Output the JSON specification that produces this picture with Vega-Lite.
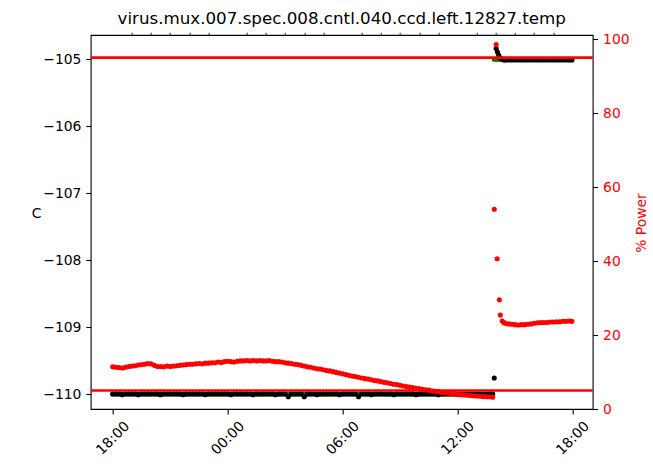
{
  "$schema": "https://vega.github.io/schema/vega-lite/v6.json",
  "autosize": "none",
  "width": 502,
  "height": 374,
  "padding": {"left": 90.7, "top": 35, "right": 60.3, "bottom": 57},
  "background": "white",
  "title": {"text": "virus.mux.007.spec.008.cntl.040.ccd.left.12827.temp", "fontSize": 16.7, "font": "DejaVu Sans", "fontWeight": "normal", "color": "#000", "anchor": "middle", "baseline": "alphabetic", "offset": 11, "dy": 19.5},
  "config": {
    "font": "DejaVu Sans",
    "view": {"stroke": "#000", "strokeWidth": 1.1},
    "axis": {"domain": false, "grid": false, "labelFont": "DejaVu Sans", "labelFontSize": 13.9, "labelColor": "#000", "tickColor": "#000", "tickWidth": 1.1, "tickSize": 4.9, "titleFont": "DejaVu Sans", "titleFontWeight": "normal", "titleFontSize": 13.9, "titleColor": "#000", "labelOverlap": false, "labelFlush": false}
  },
  "datasets": {
    "limits": [{"limit": 5}, {"limit": 95}],
    "main": [
      {"t":"2023-01-01T18:00","temp":-110,"set":-110,"power":11.4},
      {"t":"2023-01-01T18:10","temp":-110,"set":-110,"power":11.3},
      {"t":"2023-01-01T18:20","temp":-110,"set":-110,"power":11.2},
      {"t":"2023-01-01T18:30","temp":-110.01,"set":-110,"power":11.1},
      {"t":"2023-01-01T18:40","temp":-110,"set":-110,"power":11.3},
      {"t":"2023-01-01T18:50","temp":-110,"set":-110,"power":11.5},
      {"t":"2023-01-01T19:00","temp":-110,"set":-110,"power":11.6},
      {"t":"2023-01-01T19:10","temp":-110,"set":-110,"power":11.7},
      {"t":"2023-01-01T19:20","temp":-110.01,"set":-110,"power":11.9},
      {"t":"2023-01-01T19:30","temp":-110,"set":-110,"power":12.0},
      {"t":"2023-01-01T19:40","temp":-110,"set":-110,"power":12.1},
      {"t":"2023-01-01T19:50","temp":-110,"set":-110,"power":12.3},
      {"t":"2023-01-01T20:00","temp":-110,"set":-110,"power":12.2},
      {"t":"2023-01-01T20:10","temp":-110,"set":-110,"power":11.8},
      {"t":"2023-01-01T20:20","temp":-110,"set":-110,"power":11.5},
      {"t":"2023-01-01T20:30","temp":-110.01,"set":-110,"power":11.5},
      {"t":"2023-01-01T20:40","temp":-110,"set":-110,"power":11.4},
      {"t":"2023-01-01T20:50","temp":-110,"set":-110,"power":11.6},
      {"t":"2023-01-01T21:00","temp":-110,"set":-110,"power":11.5},
      {"t":"2023-01-01T21:10","temp":-110,"set":-110,"power":11.6},
      {"t":"2023-01-01T21:20","temp":-110,"set":-110,"power":11.7},
      {"t":"2023-01-01T21:30","temp":-110,"set":-110,"power":11.8},
      {"t":"2023-01-01T21:40","temp":-110.01,"set":-110,"power":11.9},
      {"t":"2023-01-01T21:50","temp":-110,"set":-110,"power":12.0},
      {"t":"2023-01-01T22:00","temp":-110,"set":-110,"power":12.1},
      {"t":"2023-01-01T22:10","temp":-110,"set":-110,"power":12.1},
      {"t":"2023-01-01T22:20","temp":-110,"set":-110,"power":12.2},
      {"t":"2023-01-01T22:30","temp":-110,"set":-110,"power":12.3},
      {"t":"2023-01-01T22:40","temp":-110,"set":-110,"power":12.2},
      {"t":"2023-01-01T22:50","temp":-110.01,"set":-110,"power":12.4},
      {"t":"2023-01-01T23:00","temp":-110,"set":-110,"power":12.4},
      {"t":"2023-01-01T23:10","temp":-110,"set":-110,"power":12.5},
      {"t":"2023-01-01T23:20","temp":-110,"set":-110,"power":12.5},
      {"t":"2023-01-01T23:30","temp":-110,"set":-110,"power":12.7},
      {"t":"2023-01-01T23:40","temp":-110,"set":-110,"power":12.6},
      {"t":"2023-01-01T23:50","temp":-110,"set":-110,"power":12.8},
      {"t":"2023-01-02T00:00","temp":-110,"set":-110,"power":12.9},
      {"t":"2023-01-02T00:10","temp":-110.01,"set":-110,"power":12.8},
      {"t":"2023-01-02T00:20","temp":-110,"set":-110,"power":12.7},
      {"t":"2023-01-02T00:30","temp":-110,"set":-110,"power":12.9},
      {"t":"2023-01-02T00:40","temp":-110,"set":-110,"power":13.0},
      {"t":"2023-01-02T00:50","temp":-110,"set":-110,"power":13.0},
      {"t":"2023-01-02T01:00","temp":-110,"set":-110,"power":13.1},
      {"t":"2023-01-02T01:10","temp":-110,"set":-110,"power":13.0},
      {"t":"2023-01-02T01:20","temp":-110.01,"set":-110,"power":13.1},
      {"t":"2023-01-02T01:30","temp":-110,"set":-110,"power":13.0},
      {"t":"2023-01-02T01:40","temp":-110,"set":-110,"power":13.1},
      {"t":"2023-01-02T01:50","temp":-110,"set":-110,"power":13.0},
      {"t":"2023-01-02T02:00","temp":-110,"set":-110,"power":13.0},
      {"t":"2023-01-02T02:10","temp":-110,"set":-110,"power":13.1},
      {"t":"2023-01-02T02:20","temp":-110,"set":-110,"power":12.9},
      {"t":"2023-01-02T02:30","temp":-110.01,"set":-110,"power":12.8},
      {"t":"2023-01-02T02:40","temp":-110,"set":-110,"power":12.8},
      {"t":"2023-01-02T02:50","temp":-110,"set":-110,"power":12.7},
      {"t":"2023-01-02T03:00","temp":-110,"set":-110,"power":12.5},
      {"t":"2023-01-02T03:10","temp":-110.04,"set":-110,"power":12.4},
      {"t":"2023-01-02T03:20","temp":-110,"set":-110,"power":12.3},
      {"t":"2023-01-02T03:30","temp":-110,"set":-110,"power":12.1},
      {"t":"2023-01-02T03:40","temp":-110,"set":-110,"power":12.0},
      {"t":"2023-01-02T03:50","temp":-110,"set":-110,"power":11.8},
      {"t":"2023-01-02T04:00","temp":-110.04,"set":-110,"power":11.6},
      {"t":"2023-01-02T04:10","temp":-110,"set":-110,"power":11.4},
      {"t":"2023-01-02T04:20","temp":-110,"set":-110,"power":11.3},
      {"t":"2023-01-02T04:30","temp":-110,"set":-110,"power":11.1},
      {"t":"2023-01-02T04:40","temp":-110.01,"set":-110,"power":10.9},
      {"t":"2023-01-02T04:50","temp":-110,"set":-110,"power":10.8},
      {"t":"2023-01-02T05:00","temp":-110,"set":-110,"power":10.6},
      {"t":"2023-01-02T05:10","temp":-110,"set":-110,"power":10.4},
      {"t":"2023-01-02T05:20","temp":-110,"set":-110,"power":10.3},
      {"t":"2023-01-02T05:30","temp":-110,"set":-110,"power":10.1},
      {"t":"2023-01-02T05:40","temp":-110,"set":-110,"power":9.9},
      {"t":"2023-01-02T05:50","temp":-110.01,"set":-110,"power":9.7},
      {"t":"2023-01-02T06:00","temp":-110,"set":-110,"power":9.5},
      {"t":"2023-01-02T06:10","temp":-110,"set":-110,"power":9.3},
      {"t":"2023-01-02T06:20","temp":-110,"set":-110,"power":9.1},
      {"t":"2023-01-02T06:30","temp":-110,"set":-110,"power":8.9},
      {"t":"2023-01-02T06:40","temp":-110,"set":-110,"power":8.8},
      {"t":"2023-01-02T06:50","temp":-110.04,"set":-110,"power":8.6},
      {"t":"2023-01-02T07:00","temp":-110,"set":-110,"power":8.4},
      {"t":"2023-01-02T07:10","temp":-110,"set":-110,"power":8.2},
      {"t":"2023-01-02T07:20","temp":-110,"set":-110,"power":8.1},
      {"t":"2023-01-02T07:30","temp":-110.01,"set":-110,"power":7.9},
      {"t":"2023-01-02T07:40","temp":-110,"set":-110,"power":7.7},
      {"t":"2023-01-02T07:50","temp":-110,"set":-110,"power":7.6},
      {"t":"2023-01-02T08:00","temp":-110,"set":-110,"power":7.4},
      {"t":"2023-01-02T08:10","temp":-110,"set":-110,"power":7.2},
      {"t":"2023-01-02T08:20","temp":-110,"set":-110,"power":7.1},
      {"t":"2023-01-02T08:30","temp":-110,"set":-110,"power":6.9},
      {"t":"2023-01-02T08:40","temp":-110.01,"set":-110,"power":6.7},
      {"t":"2023-01-02T08:50","temp":-110,"set":-110,"power":6.6},
      {"t":"2023-01-02T09:00","temp":-110,"set":-110,"power":6.4},
      {"t":"2023-01-02T09:10","temp":-110,"set":-110,"power":6.2},
      {"t":"2023-01-02T09:20","temp":-110,"set":-110,"power":6.1},
      {"t":"2023-01-02T09:30","temp":-110,"set":-110,"power":5.9},
      {"t":"2023-01-02T09:40","temp":-110,"set":-110,"power":5.8},
      {"t":"2023-01-02T09:50","temp":-110.01,"set":-110,"power":5.6},
      {"t":"2023-01-02T10:00","temp":-110,"set":-110,"power":5.5},
      {"t":"2023-01-02T10:10","temp":-110,"set":-110,"power":5.3},
      {"t":"2023-01-02T10:20","temp":-110,"set":-110,"power":5.2},
      {"t":"2023-01-02T10:30","temp":-110,"set":-110,"power":5.1},
      {"t":"2023-01-02T10:40","temp":-110,"set":-110,"power":4.9},
      {"t":"2023-01-02T10:50","temp":-110,"set":-110,"power":4.8},
      {"t":"2023-01-02T11:00","temp":-110.01,"set":-110,"power":4.7},
      {"t":"2023-01-02T11:10","temp":-110,"set":-110,"power":4.5},
      {"t":"2023-01-02T11:20","temp":-110,"set":-110,"power":4.4},
      {"t":"2023-01-02T11:30","temp":-110,"set":-110,"power":4.3},
      {"t":"2023-01-02T11:40","temp":-110,"set":-110,"power":4.2},
      {"t":"2023-01-02T11:50","temp":-110,"set":-110,"power":4.1},
      {"t":"2023-01-02T12:00","temp":-110,"set":-110,"power":3.95},
      {"t":"2023-01-02T12:10","temp":-110.01,"set":-110,"power":3.9},
      {"t":"2023-01-02T12:20","temp":-110,"set":-110,"power":3.8},
      {"t":"2023-01-02T12:30","temp":-110,"set":-110,"power":3.7},
      {"t":"2023-01-02T12:40","temp":-110,"set":-110,"power":3.65},
      {"t":"2023-01-02T12:50","temp":-110,"set":-110,"power":3.6},
      {"t":"2023-01-02T13:00","temp":-110,"set":-110,"power":3.5},
      {"t":"2023-01-02T13:10","temp":-110,"set":-110,"power":3.45},
      {"t":"2023-01-02T13:20","temp":-110.01,"set":-110,"power":3.4},
      {"t":"2023-01-02T13:30","temp":-110,"set":-110,"power":3.3},
      {"t":"2023-01-02T13:40","temp":-110,"set":-110,"power":3.3},
      {"t":"2023-01-02T13:50","temp":-110,"set":-110,"power":3.2},
      {"t":"2023-01-02T13:55","temp":-109.76,"set":-105,"power":54.0},
      {"t":"2023-01-02T14:01","temp":-104.84,"set":-105,"power":98.5},
      {"t":"2023-01-02T14:04","temp":null,"set":null,"power":40.6},
      {"t":"2023-01-02T14:05","temp":-104.89,"set":-105,"power":null},
      {"t":"2023-01-02T14:09","temp":-104.94,"set":-105,"power":null},
      {"t":"2023-01-02T14:11","temp":null,"set":null,"power":29.5},
      {"t":"2023-01-02T14:14","temp":-104.98,"set":-105,"power":25.4},
      {"t":"2023-01-02T14:20","temp":-105.0,"set":-105,"power":23.8},
      {"t":"2023-01-02T14:25","temp":-105.01,"set":-105,"power":23.4},
      {"t":"2023-01-02T14:30","temp":-105.01,"set":-105,"power":23.2},
      {"t":"2023-01-02T14:40","temp":-105.01,"set":-105,"power":23.0},
      {"t":"2023-01-02T14:50","temp":-105.01,"set":-105,"power":22.9},
      {"t":"2023-01-02T15:00","temp":-105.01,"set":-105,"power":22.8},
      {"t":"2023-01-02T15:10","temp":-105.01,"set":-105,"power":22.7},
      {"t":"2023-01-02T15:20","temp":-105.01,"set":-105,"power":22.8},
      {"t":"2023-01-02T15:30","temp":-105.01,"set":-105,"power":22.8},
      {"t":"2023-01-02T15:40","temp":-105.01,"set":-105,"power":22.9},
      {"t":"2023-01-02T15:50","temp":-105.01,"set":-105,"power":23.0},
      {"t":"2023-01-02T16:00","temp":-105.01,"set":-105,"power":23.2},
      {"t":"2023-01-02T16:10","temp":-105.01,"set":-105,"power":23.3},
      {"t":"2023-01-02T16:20","temp":-105.01,"set":-105,"power":23.4},
      {"t":"2023-01-02T16:30","temp":-105.01,"set":-105,"power":23.4},
      {"t":"2023-01-02T16:40","temp":-105.01,"set":-105,"power":23.4},
      {"t":"2023-01-02T16:50","temp":-105.01,"set":-105,"power":23.5},
      {"t":"2023-01-02T17:00","temp":-105.01,"set":-105,"power":23.5},
      {"t":"2023-01-02T17:10","temp":-105.01,"set":-105,"power":23.6},
      {"t":"2023-01-02T17:20","temp":-105.01,"set":-105,"power":23.6},
      {"t":"2023-01-02T17:30","temp":-105.01,"set":-105,"power":23.7},
      {"t":"2023-01-02T17:40","temp":-105.01,"set":-105,"power":23.7},
      {"t":"2023-01-02T17:50","temp":-105.01,"set":-105,"power":23.8},
      {"t":"2023-01-02T17:58","temp":-105.01,"set":-105,"power":23.7}
    ]
  },
  "layer": [
    {
      "data": {"name": "main"},
      "mark": {"type": "point", "filled": true, "size": 26, "color": "green", "opacity": 1, "strokeWidth": 0},
      "encoding": {
        "x": {"field": "t", "type": "temporal",
          "scale": {"nice": false, "domain": [{"year":2023,"month":1,"date":1,"hours":16,"minutes":51,"seconds":6},{"year":2023,"month":1,"date":2,"hours":19,"minutes":3,"seconds":18}]},
          "axis": {"title": null, "format": "%H:%M", "labelAngle": -45, "labelAlign": "center", "labelBaseline": "middle", "labelPadding": 24,
            "values": [{"year":2023,"month":1,"date":1,"hours":18},{"year":2023,"month":1,"date":2,"hours":0},{"year":2023,"month":1,"date":2,"hours":6},{"year":2023,"month":1,"date":2,"hours":12},{"year":2023,"month":1,"date":2,"hours":18}]}},
        "y": {"field": "set", "type": "quantitative",
          "scale": {"domain": [-110.224, -104.637], "nice": false, "zero": false},
          "axis": {"orient": "left", "values": [-110, -109, -108, -107, -106, -105], "format": "d", "labelPadding": 4.9,
            "title": "C", "titleAngle": 0, "titleAlign": "center", "titleBaseline": "middle", "titleX": -54.7, "titleY": 178.5}}
      }
    },
    {
      "data": {"name": "main"},
      "mark": {"type": "point", "filled": true, "size": 26, "color": "black", "opacity": 1, "strokeWidth": 0},
      "encoding": {
        "x": {"field": "t", "type": "temporal",
          "scale": {"nice": false, "domain": [{"year":2023,"month":1,"date":1,"hours":16,"minutes":51,"seconds":6},{"year":2023,"month":1,"date":2,"hours":19,"minutes":3,"seconds":18}]},
          "axis": {"title": null, "labels": false, "tickSize": 2.8, "tickWidth": 0.8,
            "values": [{"year":2023,"month":1,"date":1,"hours":19},{"year":2023,"month":1,"date":1,"hours":20},{"year":2023,"month":1,"date":1,"hours":21},{"year":2023,"month":1,"date":1,"hours":22},{"year":2023,"month":1,"date":1,"hours":23},{"year":2023,"month":1,"date":2,"hours":1},{"year":2023,"month":1,"date":2,"hours":2},{"year":2023,"month":1,"date":2,"hours":3},{"year":2023,"month":1,"date":2,"hours":4},{"year":2023,"month":1,"date":2,"hours":5},{"year":2023,"month":1,"date":2,"hours":7},{"year":2023,"month":1,"date":2,"hours":8},{"year":2023,"month":1,"date":2,"hours":9},{"year":2023,"month":1,"date":2,"hours":10},{"year":2023,"month":1,"date":2,"hours":11},{"year":2023,"month":1,"date":2,"hours":13},{"year":2023,"month":1,"date":2,"hours":14},{"year":2023,"month":1,"date":2,"hours":15},{"year":2023,"month":1,"date":2,"hours":16},{"year":2023,"month":1,"date":2,"hours":17}]}},
        "y": {"field": "temp", "type": "quantitative",
          "scale": {"domain": [-110.224, -104.637], "nice": false, "zero": false}, "axis": null}
      }
    },
    {
      "data": {"name": "main"},
      "mark": {"type": "point", "filled": true, "size": 26, "color": "red", "opacity": 1, "strokeWidth": 0},
      "encoding": {
        "x": {"field": "t", "type": "temporal",
          "scale": {"nice": false, "domain": [{"year":2023,"month":1,"date":1,"hours":16,"minutes":51,"seconds":6},{"year":2023,"month":1,"date":2,"hours":19,"minutes":3,"seconds":18}]},
          "axis": null},
        "y": {"field": "power", "type": "quantitative",
          "scale": {"domain": [0, 101.1], "nice": false, "zero": false},
          "axis": {"orient": "right", "values": [0, 20, 40, 60, 80, 100], "labelColor": "red", "labelPadding": 5,
            "title": "% Power", "titleColor": "red", "titleAngle": 270, "titleAlign": "center", "titleBaseline": "middle", "titleX": 48.5, "titleY": 187.5}}
      }
    },
    {
      "data": {"name": "limits"},
      "mark": {"type": "rule", "color": "red", "strokeWidth": 2.7},
      "encoding": {
        "y": {"field": "limit", "type": "quantitative",
          "scale": {"domain": [0, 101.1], "nice": false, "zero": false}, "axis": null}
      }
    }
  ],
  "resolve": {"scale": {"y": "independent"}, "axis": {"x": "independent"}}
}
